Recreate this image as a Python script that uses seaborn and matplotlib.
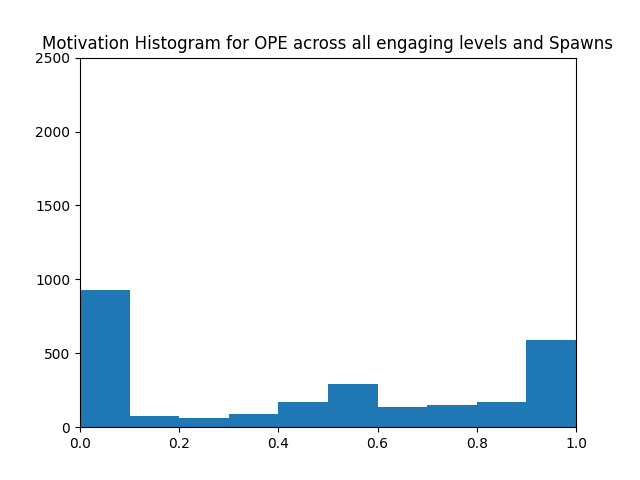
import matplotlib
matplotlib.use("Agg")
import matplotlib.pyplot as plt
import seaborn as sns
import pandas as pd

# bin centres and counts
bin_centers = [0.05, 0.15, 0.25, 0.35, 0.45, 0.55, 0.65, 0.75, 0.85, 0.95]
counts = [928, 75, 61, 88, 169, 291, 135, 149, 169, 589]

df = pd.DataFrame({"motivation": bin_centers, "count": counts})

fig, ax = plt.subplots(figsize=(6.4, 4.8), dpi=100)
sns.histplot(data=df, x="motivation", weights="count", bins=10, binrange=(0, 1),
             color="#1f77b4", alpha=1, linewidth=0, ax=ax)
ax.set_xlim(0, 1)
ax.set_ylim(0, 2500)
ax.set_xlabel("")
ax.set_ylabel("")
ax.set_title("Motivation Histogram for OPE across all engaging levels and Spawns")
fig.savefig("out.png")
